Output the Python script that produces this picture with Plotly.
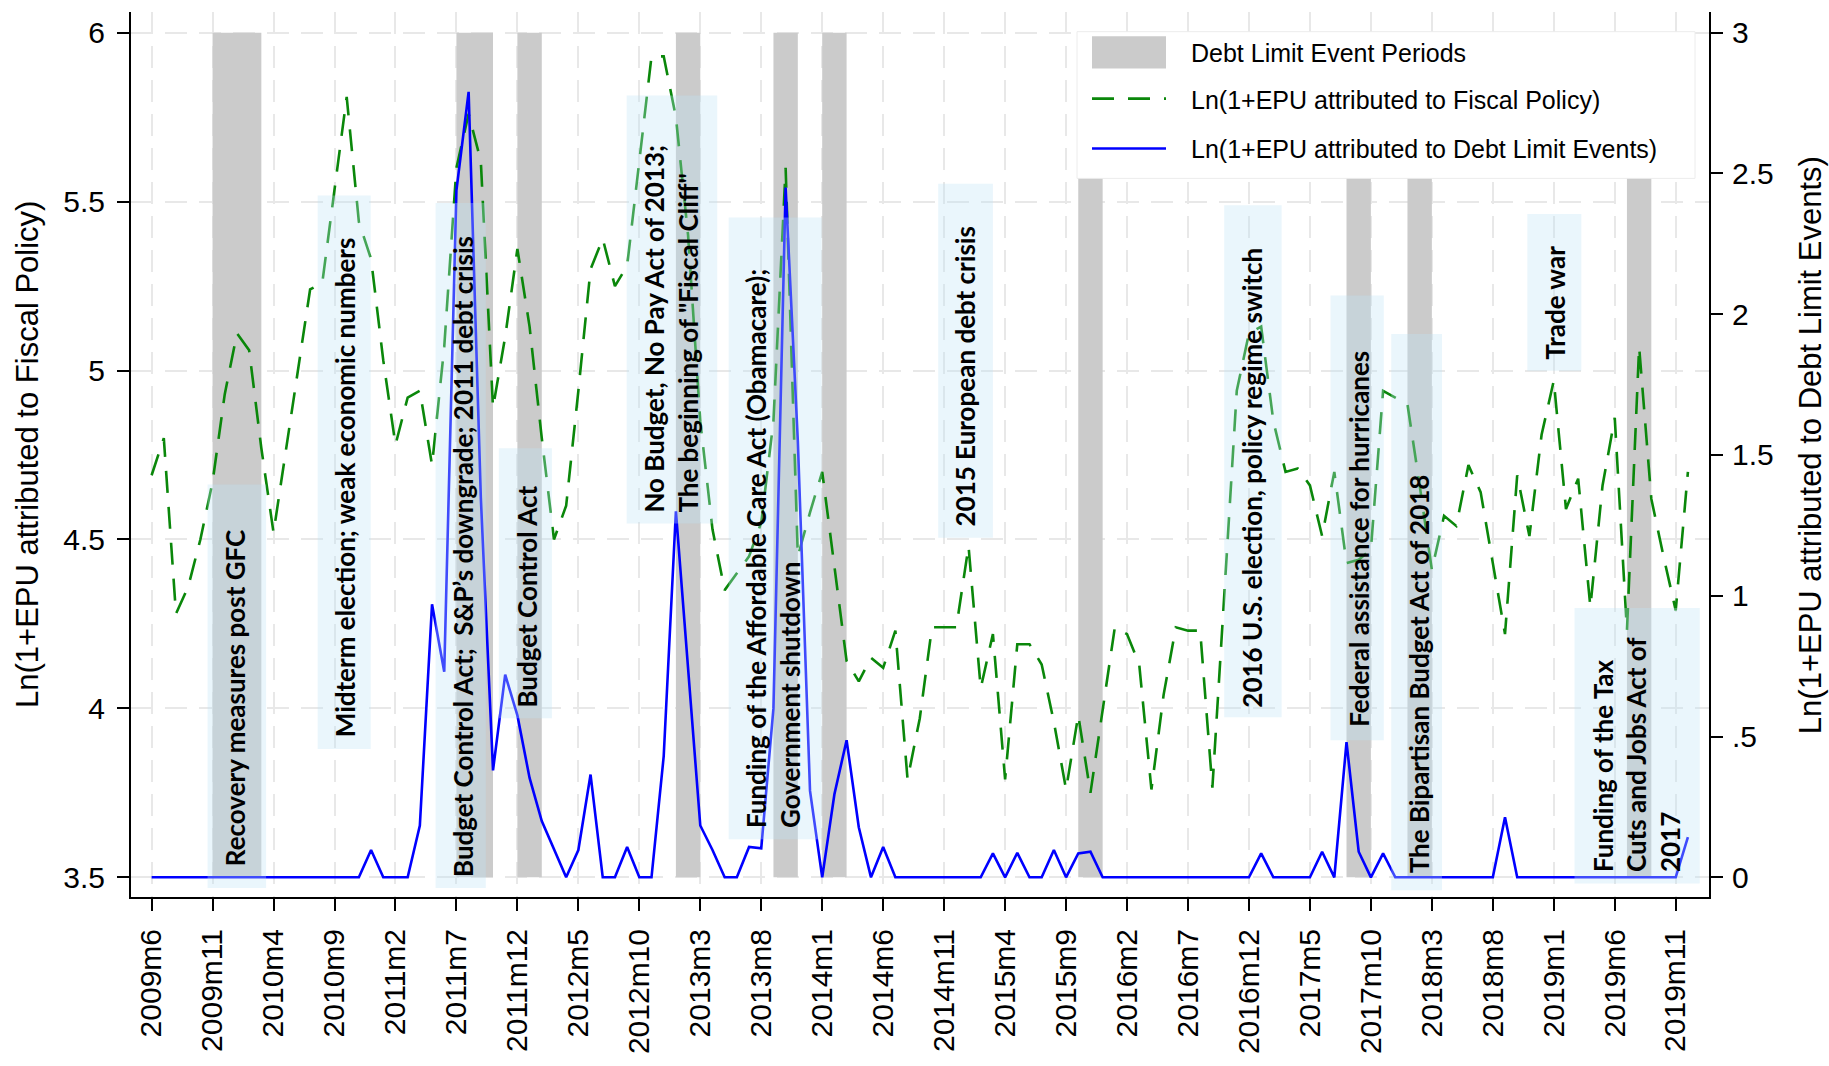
import plotly.graph_objects as go

# ---------------------------------------------------------------------------
# Monthly series, 2009m6 .. 2019m12
# ---------------------------------------------------------------------------
START_YEAR, START_MONTH, N_MONTHS = 2009, 6, 127
month_labels = [
    f"{START_YEAR + (START_MONTH - 1 + i) // 12}m{(START_MONTH - 1 + i) % 12 + 1}"
    for i in range(N_MONTHS)
]
month_index = list(range(N_MONTHS))

# Ln(1+EPU attributed to Fiscal Policy)  (left axis)
fiscal_policy = [
    4.69, 4.80, 4.28, 4.36, 4.50, 4.67, 4.93, 5.11, 5.06, 4.77,
    4.52, 4.76, 5.00, 5.24, 5.26, 5.53, 5.81, 5.44, 5.33, 5.03,
    4.78, 4.92, 4.94, 4.72, 5.07, 5.60, 5.76, 5.62, 4.89, 5.10,
    5.36, 5.13, 4.80, 4.50, 4.60, 4.94, 5.30, 5.39, 5.25, 5.31,
    5.62, 5.93, 5.93, 5.75, 5.40, 4.85, 4.53, 4.35, 4.40, 4.45,
    4.55, 4.85, 5.60, 4.45, 4.58, 4.70, 4.42, 4.14, 4.08, 4.15,
    4.12, 4.23, 3.79, 3.97, 4.24, 4.24, 4.24, 4.48, 4.06, 4.22,
    3.79, 4.19, 4.19, 4.13, 3.96, 3.76, 3.98, 3.75, 4.00, 4.24,
    4.22, 4.13, 3.76, 4.04, 4.24, 4.23, 4.23, 3.765, 4.35, 4.94,
    5.11, 5.13, 4.85, 4.70, 4.71, 4.66, 4.51, 4.70, 4.43, 4.44,
    4.47, 4.94, 4.92, 4.90, 4.66, 4.41, 4.57, 4.54, 4.72, 4.64,
    4.43, 4.22, 4.69, 4.51, 4.81, 4.97, 4.59, 4.68, 4.30, 4.66,
    4.86, 4.23, 5.07, 4.62, 4.45, 4.29, 4.70,
]

# Ln(1+EPU attributed to Debt Limit Events)  (right axis)
debt_limit = [
    0, 0, 0, 0, 0, 0, 0, 0, 0, 0,
    0, 0, 0, 0, 0, 0, 0, 0, 0.097, 0,
    0, 0, 0.184, 0.97, 0.73, 2.44, 2.79, 1.35, 0.38, 0.72,
    0.575, 0.353, 0.20, 0.097, 0, 0.097, 0.365, 0, 0, 0.108,
    0, 0, 0.43, 1.30, 0.74, 0.184, 0.097, 0, 0, 0.108,
    0.103, 0.60, 2.45, 1.55, 0.307, 0, 0.295, 0.487, 0.178, 0,
    0.108, 0, 0, 0, 0, 0, 0, 0, 0, 0.085,
    0, 0.087, 0, 0, 0.097, 0, 0.085, 0.091, 0, 0,
    0, 0, 0, 0, 0, 0, 0, 0, 0, 0,
    0, 0.085, 0, 0, 0, 0, 0.091, 0, 0.48, 0.091,
    0, 0.085, 0, 0, 0, 0, 0, 0, 0, 0,
    0, 0.213, 0, 0, 0, 0, 0, 0, 0, 0,
    0, 0, 0, 0, 0, 0, 0.143,
]

# Debt limit event periods (first month, last month) and shaded-band tops
event_periods = [
    ("2009m11", "2010m3"), ("2011m7", "2011m10"), ("2011m12", "2012m2"),
    ("2013m1", "2013m3"), ("2013m9", "2013m11"), ("2014m1", "2014m3"),
    ("2015m10", "2015m12"), ("2017m8", "2017m10"), ("2018m1", "2018m3"),
    ("2019m7", "2019m9"),
]
event_tops = [6, 6, 6, 6, 6, 6, 5.57, 5.57, 5.57, 5.57]

x_tick_labels = [
    "2009m6", "2009m11", "2010m4", "2010m9", "2011m2", "2011m7", "2011m12",
    "2012m5", "2012m10", "2013m3", "2013m8", "2014m1", "2014m6", "2014m11",
    "2015m4", "2015m9", "2016m2", "2016m7", "2016m12", "2017m5", "2017m10",
    "2018m3", "2018m8", "2019m1", "2019m6", "2019m11",
]
left_ticks = [3.5, 4, 4.5, 5, 5.5, 6]
left_tick_text = ["3.5", "4", "4.5", "5", "5.5", "6"]
right_ticks = [0, 0.5, 1, 1.5, 2, 2.5, 3]
right_tick_text = ["0", ".5", "1", "1.5", "2", "2.5", "3"]

event_labels = [
    "Recovery measures post GFC",
    "Midterm election; weak economic numbers",
    "Budget Control Act;\u00a0 S&amp;P\u2019s downgrade; 2011 debt crisis",
    "Budget Control Act",
    "No Budget, No Pay Act of 2013;<br>The beginning of \"Fiscal Cliff\"",
    "Funding of the Affordable Care Act (Obamacare);<br>Government shutdown",
    "2015 European debt crisis",
    "2016 U.S. election, policy regime switch",
    "Federal assistance for hurricanes",
    "The Bipartisan Budget Act of 2018",
    "Trade war",
    "Funding of the Tax<br>Cuts and Jobs Act of<br>2017",
]

legend_labels = [
    "Debt Limit Event Periods",
    "Ln(1+EPU attributed to Fiscal Policy)",
    "Ln(1+EPU attributed to Debt Limit Events)",
]
left_title = "Ln(1+EPU attributed to Fiscal Policy)"
right_title = "Ln(1+EPU attributed to Debt Limit Events)"

# ---------------------------------------------------------------------------
# Layout constants
# ---------------------------------------------------------------------------
W, H = 1829, 1066
M_L, M_R, M_T, M_B = 131, 120, 12, 155
PLOT_W = W - M_L - M_R
PLOT_H = H - M_T - M_B

X_RANGE = [-1.69, 127.73]
Y_RANGE = [3.4417, 6.0612]
Y2_RANGE = [-0.0699, 3.0734]

GREEN = "#0a870a"
BLUE = "#0000ff"
BAND = "#cbcbcb"
BOX_FILL = "rgba(191,228,246,0.33)"
GRID = "#e8e8e8"
AXIS_FONT = "Liberation Sans, Arial, sans-serif"
LABEL_FONT = "Lato, Carlito, sans-serif"


def px_x(px):
    return (px - M_L) / PLOT_W


def px_y(py):
    return (H - M_B - py) / PLOT_H


# Box extents (month index, left-axis value) and text anchors for event notes
box_geom = [
    (4.59, 9.39, 3.468, 4.663),
    (13.62, 17.97, 3.880, 5.518),
    (23.29, 27.41, 3.468, 5.496),
    (28.48, 32.83, 3.971, 4.770),
    (38.96, 46.39, 4.547, 5.814),
    (47.33, 54.96, 3.613, 5.453),
    (64.51, 69.00, 4.505, 5.553),
    (87.97, 92.68, 3.974, 5.489),
    (96.69, 101.06, 3.906, 5.222),
    (101.67, 105.83, 3.462, 5.108),
    (112.83, 117.26, 4.999, 5.463),
    (116.70, 126.97, 3.482, 4.297),
]
text_anchor = [
    (6.84, 3.530), (15.87, 3.912), (25.55, 3.497), (30.80, 4.000),
    (42.64, 4.575), (51.01, 3.643), (66.73, 4.536), (90.27, 4.000),
    (99.01, 3.942), (104.02, 3.510), (115.13, 5.030), (121.77, 3.512),
]

# ---------------------------------------------------------------------------
# Traces
# ---------------------------------------------------------------------------
band_start = [month_labels.index(s) for s, _ in event_periods]
band_end = [month_labels.index(e) for _, e in event_periods]
BAND_BASE = 3.5

fig = go.Figure()
fig.add_trace(go.Bar(
    x=[(s + e) / 2 for s, e in zip(band_start, band_end)],
    y=[t - BAND_BASE for t in event_tops],
    base=BAND_BASE,
    width=[e - s for s, e in zip(band_start, band_end)],
    marker=dict(color=BAND, line=dict(width=0)),
    showlegend=False, hoverinfo="skip",
))
fig.add_trace(go.Scatter(
    x=month_index, y=fiscal_policy, mode="lines",
    line=dict(color=GREEN, width=2.6, dash="22px,14px"),
    showlegend=False,
))
fig.add_trace(go.Scatter(
    x=month_index, y=debt_limit, mode="lines", yaxis="y2",
    line=dict(color=BLUE, width=2.6),
    showlegend=False,
))

# ---------------------------------------------------------------------------
# Shapes: event-note boxes and the legend panel
# ---------------------------------------------------------------------------
shapes = []
for x0, x1, y0, y1 in box_geom:
    shapes.append(dict(type="rect", xref="x", yref="y", x0=x0, x1=x1, y0=y0, y1=y1,
                       fillcolor=BOX_FILL, line=dict(width=0), layer="above"))

shapes.append(dict(type="rect", xref="paper", yref="paper",
                   x0=px_x(1077), x1=px_x(1695), y0=px_y(181), y1=px_y(32),
                   fillcolor="white", line=dict(color="#ececec", width=1), layer="above"))
shapes.append(dict(type="rect", xref="paper", yref="paper",
                   x0=px_x(1092), x1=px_x(1166), y0=px_y(69.3), y1=px_y(36.7),
                   fillcolor=BAND, line=dict(width=0), layer="above"))
shapes.append(dict(type="line", xref="paper", yref="paper",
                   x0=px_x(1092), x1=px_x(1166), y0=px_y(100), y1=px_y(100),
                   line=dict(color=GREEN, width=2.6, dash="22px,14px"), layer="above"))
shapes.append(dict(type="line", xref="paper", yref="paper",
                   x0=px_x(1092), x1=px_x(1166), y0=px_y(150.7), y1=px_y(150.7),
                   line=dict(color=BLUE, width=2.6), layer="above"))

# ---------------------------------------------------------------------------
# Annotations: event notes, legend text, axis titles
# ---------------------------------------------------------------------------
annotations = []
for text, (ax, ay) in zip(event_labels, text_anchor):
    annotations.append(dict(
        text=text, x=ax, y=ay, xref="x", yref="y",
        xanchor="center", yanchor="bottom", textangle=-90, align="left",
        showarrow=False, borderpad=0,
        font=dict(family=LABEL_FONT, size=26, color="black", weight="bold"),
    ))

for text, py in zip(legend_labels, [54, 101, 151.5]):
    annotations.append(dict(
        text=text, x=px_x(1189), y=px_y(py), xref="paper", yref="paper",
        xanchor="left", yanchor="middle", showarrow=False,
        font=dict(family=AXIS_FONT, size=25, color="black"),
    ))

annotations.append(dict(
    text=left_title, x=px_x(27.5), y=px_y(461.5), xref="paper", yref="paper",
    xanchor="center", yanchor="middle", textangle=-90, showarrow=False,
    font=dict(family=AXIS_FONT, size=31, color="black"),
))
annotations.append(dict(
    text=right_title, x=px_x(1810), y=px_y(452), xref="paper", yref="paper",
    xanchor="center", yanchor="middle", textangle=-90, showarrow=False,
    font=dict(family=AXIS_FONT, size=31, color="black"),
))

axis_common = dict(
    ticks="outside", ticklen=12, tickwidth=2, tickcolor="black",
    showline=True, linewidth=2, linecolor="black", zeroline=False,
    tickfont=dict(family=AXIS_FONT, size=30, color="black"),
)

fig.update_layout(
    width=W, height=H,
    margin=dict(l=M_L, r=M_R, t=M_T, b=M_B),
    paper_bgcolor="white", plot_bgcolor="white",
    showlegend=False,
    xaxis=dict(
        range=X_RANGE,
        tickmode="array",
        tickvals=[month_labels.index(t) for t in x_tick_labels],
        ticktext=x_tick_labels,
        tickangle=-90,
        showgrid=True, gridcolor=GRID, gridwidth=1.8, griddash="22px,12px",
        ticklabelstandoff=6,
        **axis_common,
    ),
    yaxis=dict(
        range=Y_RANGE,
        tickmode="array", tickvals=left_ticks, ticktext=left_tick_text,
        showgrid=True, gridcolor=GRID, gridwidth=1.8, griddash="22px,12px",
        ticklabelstandoff=6,
        **axis_common,
    ),
    yaxis2=dict(
        range=Y2_RANGE, overlaying="y", side="right",
        tickmode="array", tickvals=right_ticks, ticktext=right_tick_text,
        showgrid=False, ticklabelstandoff=3,
        **axis_common,
    ),
    shapes=shapes,
    annotations=annotations,
)

fig.write_html("out.html")
